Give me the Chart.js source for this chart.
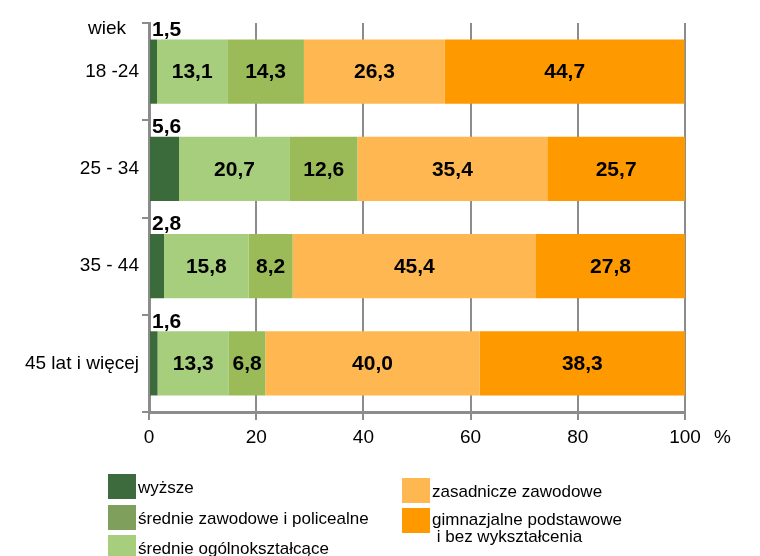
<!DOCTYPE html>
<html>
<head>
    <title>Wykształcenie wg wieku</title>
    <script src="https://cdn.jsdelivr.net/npm/chart.js@4.4.0/dist/chart.umd.min.js"></script>
    <style>
        body { margin: 0; background: #fff; font-family: "Liberation Sans", Arial, sans-serif; }
        .wrap { position: relative; width: 760px; height: 556px; overflow: hidden; }
        .legend-item { position: absolute; font-size: 17px; color: #000; line-height: 17px; white-space: nowrap; }
        .swatch { position: absolute; width: 28px; height: 25px; }
    </style>
</head>
<body>
    <div class="wrap">
        <canvas id="eduChart" width="760" height="556"></canvas>

        <!-- legend, left column -->
        <div class="swatch" style="left:108px; top:474px; background:#3d6b3d"></div>
        <div class="legend-item" style="left:138px; top:479px">wyższe</div>
        <div class="swatch" style="left:108px; top:505px; background:#7f9f5c"></div>
        <div class="legend-item" style="left:138px; top:510px">średnie zawodowe i policealne</div>
        <div class="swatch" style="left:108px; top:535px; background:#a6ce7c"></div>
        <div class="legend-item" style="left:138px; top:540px">średnie ogólnokształcące</div>

        <!-- legend, right column -->
        <div class="swatch" style="left:402px; top:478px; background:#ffb851"></div>
        <div class="legend-item" style="left:432px; top:483px">zasadnicze zawodowe</div>
        <div class="swatch" style="left:402px; top:508px; background:#ff9900"></div>
        <div class="legend-item" style="left:432px; top:511px">gimnazjalne podstawowe<br>&nbsp;i bez wykształcenia</div>
    </div>

    <script>
        // categories (age groups)
        const ageGroups = ['18 -24', '25 - 34', '35 - 44', '45 lat i więcej'];

        // series values, % per age group
        const wyzsze = [1.5, 5.6, 2.8, 1.6];
        const srednieOgolne = [13.1, 20.7, 15.8, 13.3];
        const srednieZawodowe = [14.3, 12.6, 8.2, 6.8];
        const zasadnicze = [26.3, 35.4, 45.4, 40.0];
        const gimnazjalne = [44.7, 25.7, 27.8, 38.3];

        const xTicks = [0, 20, 40, 60, 80, 100];

        const FONT = '"Liberation Sans", Arial, sans-serif';
        const GRID = '#8c8c8c';

        // value labels on bars
        const valueLabels = {
            id: 'valueLabels',
            afterDatasetsDraw(chart) {
                const ctx = chart.ctx;
                ctx.save();
                ctx.font = 'bold 21px ' + FONT;
                ctx.fillStyle = '#000';
                chart.data.datasets.forEach((ds, i) => {
                    chart.getDatasetMeta(i).data.forEach((bar, j) => {
                        const txt = ds.data[j].toFixed(1).replace('.', ',');
                        if (i === 0) {
                            ctx.textAlign = 'left';
                            ctx.textBaseline = 'bottom';
                            ctx.fillText(txt, bar.base + 2, bar.y - bar.height / 2 + 1);
                        } else {
                            ctx.textAlign = 'center';
                            ctx.textBaseline = 'middle';
                            ctx.fillText(txt, (bar.x + bar.base) / 2, bar.y + 1);
                        }
                    });
                });
                ctx.restore();
            }
        };

        // "wiek" and "%" captions
        const axisCaptions = {
            id: 'axisCaptions',
            afterDraw(chart) {
                const ctx = chart.ctx;
                const area = chart.chartArea;
                ctx.save();
                ctx.font = '19px ' + FONT;
                ctx.fillStyle = '#000';
                ctx.textBaseline = 'middle';
                ctx.textAlign = 'right';
                ctx.fillText('wiek', area.left - 23, area.top + 6);
                ctx.textAlign = 'left';
                ctx.fillText('%', area.right + 29, area.bottom + 26);
                ctx.restore();
            }
        };

        new Chart(document.getElementById('eduChart'), {
            type: 'bar',
            data: {
                labels: ageGroups,
                datasets: [
                    { label: 'wyższe', data: wyzsze, backgroundColor: '#3b6b3b' },
                    { label: 'średnie ogólnokształcące', data: srednieOgolne, backgroundColor: '#a6ce7c' },
                    { label: 'średnie zawodowe i policealne', data: srednieZawodowe, backgroundColor: '#9bbb59' },
                    { label: 'zasadnicze zawodowe', data: zasadnicze, backgroundColor: '#ffb851' },
                    { label: 'gimnazjalne podstawowe i bez wykształcenia', data: gimnazjalne, backgroundColor: '#ff9900' }
                ]
            },
            options: {
                indexAxis: 'y',
                responsive: false,
                animation: false,
                barPercentage: 0.66,
                categoryPercentage: 1,
                layout: { padding: { left: 0, right: 75, top: 23, bottom: 0 } },
                plugins: {
                    legend: { display: false },
                    tooltip: { enabled: false }
                },
                scales: {
                    x: {
                        stacked: true,
                        min: 0,
                        max: 100,
                        afterBuildTicks: (scale) => { scale.ticks = xTicks.map(v => ({ value: v })); },
                        afterFit: (scale) => { scale.height = 144; },
                        grid: { color: GRID, lineWidth: 2, tickLength: 8, drawOnChartArea: true },
                        border: { display: true, color: GRID, width: 3 },
                        ticks: { color: '#000', padding: 6, font: { family: FONT, size: 19 }, maxRotation: 0 }
                    },
                    y: {
                        stacked: true,
                        afterFit: (scale) => { scale.width = 149; },
                        grid: { color: GRID, lineWidth: 2, tickLength: 7, drawOnChartArea: false, offset: true },
                        border: { display: true, color: GRID, width: 3 },
                        ticks: { color: '#000', padding: 3, font: { family: FONT, size: 19 } }
                    }
                }
            },
            plugins: [valueLabels, axisCaptions]
        });
    </script>
</body>
</html>
